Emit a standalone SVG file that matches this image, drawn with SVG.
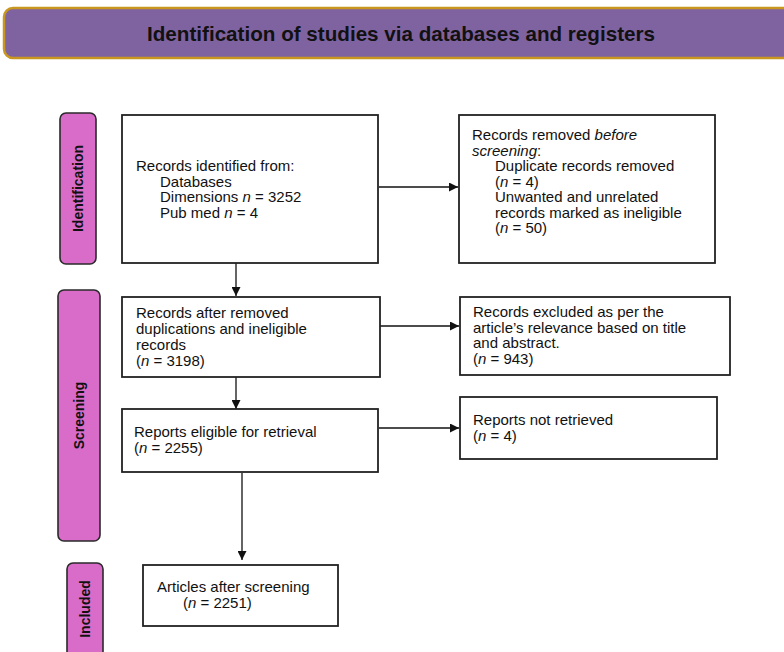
<svg xmlns="http://www.w3.org/2000/svg" width="784" height="652" viewBox="0 0 784 652">
<defs>
<marker id="ah" viewBox="0 0 10 10" refX="10" refY="5" markerWidth="9" markerHeight="9" markerUnits="userSpaceOnUse" orient="auto">
<path d="M0,0 L10,5 L0,10 z" fill="#111"/>
</marker>
<style>
.box{fill:#fff;stroke:#222;stroke-width:1.8}
.pill{fill:#D86CC8;stroke:#2a2a2a;stroke-width:1.6}
.t{font-family:"Liberation Sans",Arial,sans-serif;font-size:15px;fill:#111}
.pt{font-family:"Liberation Sans",Arial,sans-serif;font-size:14px;font-weight:bold;fill:#111;text-anchor:middle}
.c{stroke:#111;stroke-width:1.3;fill:none;marker-end:url(#ah)}
</style>
</defs>
<rect width="784" height="652" fill="#fff"/>
<g id="header">
<rect x="4" y="8" width="800" height="50" rx="9" fill="#7F63A1" stroke="#C9961F" stroke-width="2.5"/>
<text x="401" y="41" text-anchor="middle" font-family="Liberation Sans, Arial, sans-serif" font-weight="bold" font-size="21" textLength="508" lengthAdjust="spacingAndGlyphs" fill="#111">Identification of studies via databases and registers</text>
</g>
<g id="stage-identification">
<rect class="pill" x="60" y="113" width="36" height="151" rx="6"/>
<text class="pt" transform="translate(83,188.5) rotate(-90)">Identification</text>
</g>
<g id="stage-screening">
<rect class="pill" x="58" y="290" width="42" height="251" rx="6"/>
<text class="pt" transform="translate(84,415.5) rotate(-90)">Screening</text>
</g>
<g id="stage-included">
<rect class="pill" x="67" y="563" width="36" height="100" rx="6"/>
<text class="pt" transform="translate(90,609) rotate(-90)">Included</text>
</g>
<g id="connectors">
<path class="c" d="M379,187 H458"/>
<path class="c" d="M236,263 V296"/>
<path class="c" d="M380,326 H459"/>
<path class="c" d="M236,377 V409"/>
<path class="c" d="M379,428 H459"/>
<path class="c" d="M242,473 V560"/>
</g>
<g id="records-identified">
<rect class="box" x="122" y="115" width="256" height="148"/>
<text class="t" x="136" y="171">Records identified from:</text>
<text class="t" x="160" y="186.5">Databases</text>
<text class="t" x="160" y="202">Dimensions <tspan font-style="italic">n</tspan> = 3252</text>
<text class="t" x="160" y="217.5">Pub med <tspan font-style="italic">n</tspan> = 4</text>
</g>
<g id="records-removed">
<rect class="box" x="459" y="115" width="256" height="148"/>
<text class="t" x="472" y="140">Records removed <tspan font-style="italic">before</tspan></text>
<text class="t" x="472" y="155.5"><tspan font-style="italic">screening</tspan>:</text>
<text class="t" x="495" y="171">Duplicate records removed</text>
<text class="t" x="495" y="186.5">(<tspan font-style="italic">n</tspan> = 4)</text>
<text class="t" x="495" y="202">Unwanted and unrelated</text>
<text class="t" x="495" y="217.5">records marked as ineligible</text>
<text class="t" x="495" y="233">(<tspan font-style="italic">n</tspan> = 50)</text>
</g>
<g id="records-after">
<rect class="box" x="122" y="297" width="258" height="80"/>
<text class="t" x="136" y="318">Records after removed</text>
<text class="t" x="136" y="334">duplications and ineligible</text>
<text class="t" x="136" y="350">records</text>
<text class="t" x="136" y="366">(<tspan font-style="italic">n</tspan> = 3198)</text>
</g>
<g id="records-excluded">
<rect class="box" x="460" y="297" width="270" height="78"/>
<text class="t" x="473" y="317">Records excluded as per the</text>
<text class="t" x="473" y="332.5">article’s relevance based on title</text>
<text class="t" x="473" y="348">and abstract.</text>
<text class="t" x="473" y="363.5">(<tspan font-style="italic">n</tspan> = 943)</text>
</g>
<g id="reports-eligible">
<rect class="box" x="122" y="409" width="256" height="63"/>
<text class="t" x="134" y="437">Reports eligible for retrieval</text>
<text class="t" x="134" y="453">(<tspan font-style="italic">n</tspan> = 2255)</text>
</g>
<g id="reports-not-retrieved">
<rect class="box" x="460" y="397" width="257" height="62"/>
<text class="t" x="473" y="425">Reports not retrieved</text>
<text class="t" x="473" y="441">(<tspan font-style="italic">n</tspan> = 4)</text>
</g>
<g id="articles-after">
<rect class="box" x="143" y="565" width="195" height="61"/>
<text class="t" x="157" y="592">Articles after screening</text>
<text class="t" x="183" y="608">(<tspan font-style="italic">n</tspan> = 2251)</text>
</g>
</svg>
